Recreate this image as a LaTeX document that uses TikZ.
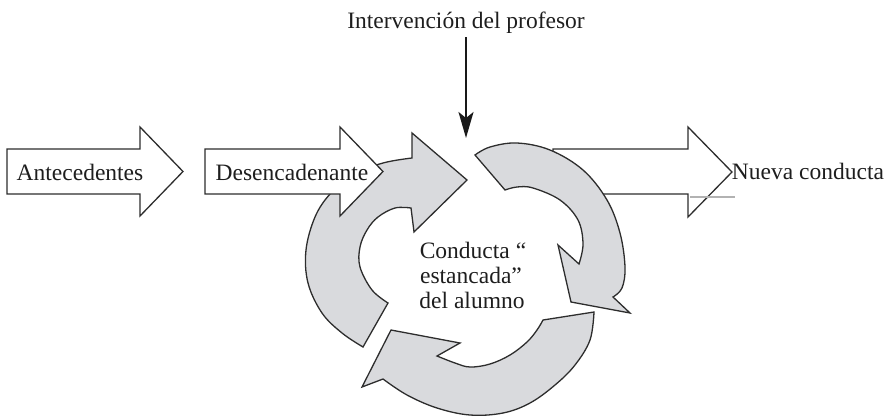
\documentclass[tikz,border=0pt]{standalone}
\usepackage{fontspec}
\setmainfont{Liberation Serif}
\usetikzlibrary{arrows.meta}
\definecolor{ringgray}{RGB}{217,218,221}
\definecolor{edge}{RGB}{45,45,45}
\definecolor{txt}{RGB}{30,30,30}
\tikzset{
  whitearrow/.style={draw=edge, fill=white, line width=1.3pt, line join=miter},
  ringarrow/.style={draw=edge, fill=ringgray, line width=1.3pt, line join=miter},
  lbl/.style={font=\fontsize{23.5}{28}\selectfont, text=txt, inner sep=0pt, anchor=base},
  pointer/.style={draw=black!90, line width=1.8pt, -{Stealth[length=26pt,width=15pt,inset=6pt]}}
}
\begin{document}
\begin{tikzpicture}[x=1pt,y=-1pt]
\useasboundingbox (0,0) rectangle (890,418);

% Nueva conducta arrow (behind the right ring arrow)
\draw[whitearrow] (553,149) -- (688,149) -- (688,127) -- (732,172) -- (688,217) -- (688,194) -- (553,194) -- cycle;
\draw[black!30, line width=2pt] (690,197) -- (735,197);

% Upper-left ring arrow
\draw[ringarrow] (363,347)
  -- plot[smooth, tension=0.6] coordinates {(363,347) (342,333) (322,313) (308,283) (306,250) (315,217) (330,194) (352,175) (383,163) (412,158)}
  -- (412,133) -- (467,180) -- (414,232) -- (411,208)
  -- plot[smooth, tension=0.6] coordinates {(411,208) (395,208) (378,217) (367,230) (360,247) (360,267) (372,290) (388,303)}
  -- cycle;

% Right ring arrow
\draw[ringarrow] (475,155)
  -- plot[smooth, tension=0.6] coordinates {(475,155) (490,147) (517,143) (550,150) (583,170) (607,200) (620,233) (625,267) (622,288) (613,297)}
  -- (630,313) -- (571,302) -- (558,245) -- (579,264)
  -- plot[smooth, tension=0.6] coordinates {(579,264) (583,244) (578,220) (560,200) (533,188) (517,187) (505,190)}
  -- cycle;

% Bottom ring arrow
\draw[ringarrow] (594,312)
  -- plot[smooth, tension=0.6] coordinates {(594,312) (590,340) (575,365) (555,385) (530,403) (503,413) (470,415) (437,408) (407,395) (383,379)}
  -- (362,387) -- (391,330) -- (460,343) -- (437,356)
  -- plot[smooth, tension=0.6] coordinates {(437,356) (455,363) (470,367) (490,364) (510,355) (527,342) (537,330) (543,320)}
  -- cycle;

% Antecedentes and Desencadenante arrows
\draw[whitearrow] (7,149) -- (140,149) -- (140,127) -- (183,171.5) -- (140,216) -- (140,194) -- (7,194) -- cycle;
\draw[whitearrow] (205,149) -- (340,149) -- (340,127) -- (383,171.5) -- (340,216) -- (340,194) -- (205,194) -- cycle;

% Labels
\node[lbl] (ante) at (80,180) {Antecedentes};
\node[lbl] (desen) at (292,180) {Desencadenante};
\node[lbl] (nueva) at (808,179) {Nueva conducta};
\node[lbl] (prof) at (466,28) {Intervención del profesor};
\node[lbl] (c1) at (473,258) {Conducta “};
\node[lbl] (c2) at (471,283) {estancada”};
\node[lbl] (c3) at (472,308) {del alumno};

% Teacher intervention pointer
\coordinate (pstart) at (466,37);
\coordinate (ptip) at (466,138);
\draw[pointer] (pstart) -- (ptip);
\end{tikzpicture}
\end{document}
